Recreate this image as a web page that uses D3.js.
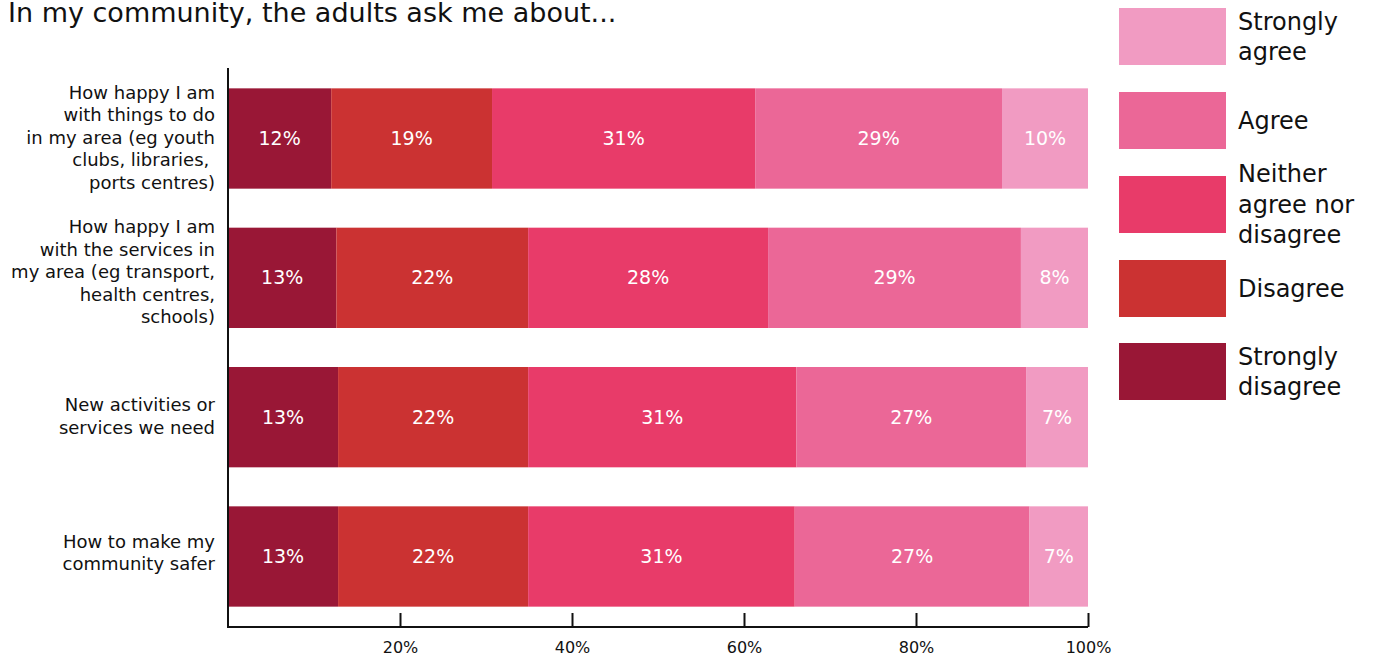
<!DOCTYPE html>
<html><head><meta charset="utf-8">
<script src="https://cdn.jsdelivr.net/npm/d3@7"></script>
<style>
body{margin:0;background:#fff;}
svg{display:block;font-family:"DejaVu Sans",sans-serif;}
</style></head>
<body><svg id="c" width="1378" height="659"></svg>
<script>
const title = "In my community, the adults ask me about...";
const categories = [
  ["How happy I am","with things to do","in my area (eg youth","clubs, libraries, ","ports centres)"],
  ["How happy I am","with the services in","my area (eg transport,","health centres,","schools)"],
  ["New activities or","services we need"],
  ["How to make my","community safer"]
];
const seriesNames = ["Strongly disagree","Disagree","Neither agree nor disagree","Agree","Strongly agree"];
const seriesColors = ["#991736","#CB3232","#E83B69","#EB6797","#F19BC2"];
const stronglyDisagree = [12.0, 12.6, 12.8, 12.8];
const disagree         = [18.7, 22.3, 22.1, 22.1];
const neither          = [30.6, 27.9, 31.2, 31.0];
const agree            = [28.7, 29.4, 26.7, 27.3];
const stronglyAgree    = [10.0, 7.8, 7.2, 6.8];
const tickValues = [20, 40, 60, 80, 100];
const legendLabels = [["Strongly","agree"],["Agree"],["Neither","agree nor","disagree"],["Disagree"],["Strongly","disagree"]];

const svg = d3.select("#c");
const x = d3.scaleLinear().domain([0,100]).range([228,1088]);
const ids = categories.map((c,i)=>i);
const y = d3.scaleBand().domain(ids).range([68,627]).paddingInner(0.28).paddingOuter(0.146);

const series = [stronglyDisagree, disagree, neither, agree, stronglyAgree];
const rows = ids.map(i => { const o = {id:i}; series.forEach((s,k)=>o["s"+k]=s[i]); return o; });
const stack = d3.stack().keys(series.map((s,k)=>"s"+k))(rows);

svg.append("text").attr("x",8).attr("y",22).attr("font-size",27).attr("fill","#111").text(title);

const g = svg.append("g");
stack.forEach((layer,k)=>{
  g.selectAll(null).data(layer).enter().append("rect")
    .attr("x",d=>x(d[0])).attr("width",d=>x(d[1])-x(d[0]))
    .attr("y",d=>y(d.data.id)).attr("height",y.bandwidth())
    .attr("fill",seriesColors[k]);
  g.selectAll(null).data(layer).enter().append("text")
    .attr("x",d=>(x(d[0])+x(d[1]))/2).attr("y",d=>y(d.data.id)+y.bandwidth()/2)
    .attr("dy","0.35em").attr("text-anchor","middle").attr("fill","#fff")
    .attr("font-size",19)
    .text(d=>Math.round(d[1]-d[0])+"%");
});

// x axis
const xa = svg.append("g").attr("transform","translate(0,627)")
  .call(d3.axisBottom(x).tickValues(tickValues).tickSize(-14).tickFormat(d=>d+"%").tickPadding(15));
xa.select(".domain").attr("d","M228,0H1088").attr("stroke","#111").attr("stroke-width",2);
xa.selectAll(".tick line").attr("stroke","#111").attr("stroke-width",2);
xa.selectAll(".tick text").attr("font-size",16).attr("fill","#111").attr("font-family","DejaVu Sans");
// y axis line
svg.append("line").attr("x1",228).attr("x2",228).attr("y1",68).attr("y2",628).attr("stroke","#111").attr("stroke-width",2);

// y labels
const lh = 22.5;
const labelShift = [-1,-6,-1,-4];
categories.forEach((lines,i)=>{
  const cy = y(i)+y.bandwidth()/2 + labelShift[i];
  const t = svg.append("text").attr("text-anchor","end").attr("font-size",18).attr("fill","#111")
    .style("white-space","pre");
  lines.forEach((ln,j)=>{
    t.append("tspan").attr("x",215).attr("y",cy + (j-(lines.length-1)/2)*lh).attr("dy","0.35em").text(ln);
  });
});

// legend
const legTops = [8,92,176,260,343];
const legOrder = [4,3,2,1,0];
legOrder.forEach((k,i)=>{
  const top = legTops[i];
  svg.append("rect").attr("x",1119).attr("y",top).attr("width",107).attr("height",57).attr("fill",seriesColors[k]);
  const lines = legendLabels[i];
  const cy = top+28.5;
  const t = svg.append("text").attr("font-size",24).attr("fill","#111");
  lines.forEach((ln,j)=>{
    t.append("tspan").attr("x",1238).attr("y",cy+(j-(lines.length-1)/2)*30.5).attr("dy","0.35em").text(ln);
  });
});
</script></body></html>
